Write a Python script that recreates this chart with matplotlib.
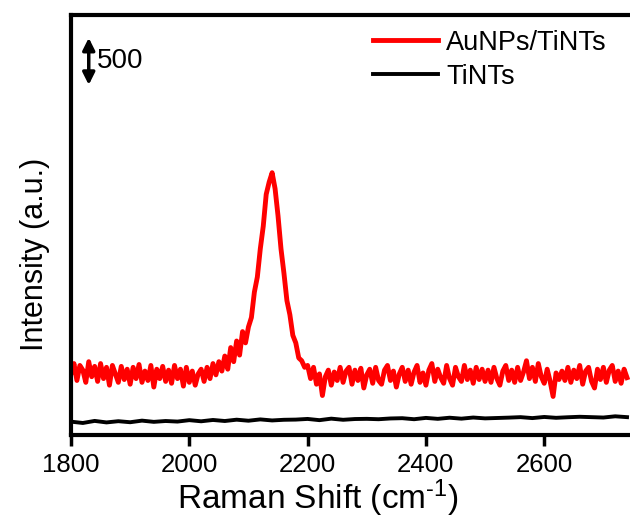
import matplotlib.pyplot as plt
import numpy as np

plt.rcParams['font.family'] = ['Liberation Sans', 'DejaVu Sans']
plt.rcParams['mathtext.default'] = 'regular'

# Raman shift axis (cm-1)
shift_red = np.arange(1800, 2745, 5)
shift_black = np.arange(1800, 2745, 20)

# AuNPs/TiNTs spectrum, counts
au_tints = [
    650, 760, 580, 740, 690, 560, 780, 620, 730, 570, 760, 600, 720, 530, 740, 650, 560, 730, 590, 700,
    540, 720, 600, 750, 560, 680, 580, 740, 510, 700, 600, 730, 570, 690, 550, 740, 600, 700, 520, 720,
    560, 680, 530, 650, 700, 570, 720, 600, 760, 640, 780, 680, 840, 700, 930, 780, 1000, 850, 1100, 980,
    1150, 1250, 1520, 1680, 1980, 2220, 2560, 2690, 2790, 2620, 2330, 1980, 1720, 1430, 1280, 1060, 980, 820, 790, 720,
    740, 600, 720, 540, 650, 420, 620, 690, 530, 670, 580, 720, 560, 680, 720, 540, 690, 580, 710, 500,
    640, 700, 550, 720, 580, 540, 690, 740, 580, 680, 510, 650, 720, 570, 690, 540, 670, 740, 560, 660,
    530, 690, 760, 570, 700, 610, 550, 740, 600, 530, 720, 620, 570, 740, 590, 690, 550, 720, 590, 700,
    570, 690, 560, 720, 600, 530, 680, 740, 580, 690, 560, 720, 580, 670, 790, 600, 720, 570, 760, 620,
    550, 700, 570, 410, 660, 590, 680, 580, 720, 560, 690, 600, 740, 540, 680, 720, 570, 500, 700, 590,
    720, 560, 690, 740, 570, 680, 550, 700, 610,
]

# bare TiNTs spectrum, counts
tints = [
    142, 128, 150, 134, 147, 136, 153, 140, 149, 143, 158, 146, 160, 149, 163, 152, 166, 155, 162, 164,
    171, 158, 174, 162, 170, 172, 168, 176, 179, 168, 182, 172, 184, 174, 186, 177, 181, 185, 190, 180,
    192, 183, 189, 194, 190, 186, 199, 190,
]

fig = plt.figure(figsize=(6.3, 5.18), dpi=100)
ax = fig.add_axes([0.1127, 0.1602, 0.8873, 0.811])

ax.plot(shift_red, au_tints, color='red', lw=3.5, label='AuNPs/TiNTs')
ax.plot(shift_black, tints, color='black', lw=2.8, label='TiNTs')

ax.set_xlim(1800, 2745)
ax.set_ylim(0, 4468)
ax.set_xticks([1800, 2000, 2200, 2400, 2600])
ax.set_yticks([])
ax.tick_params(axis='x', direction='out', length=8, width=2.5, labelsize=18.5, pad=5)
for side in ['left', 'top', 'bottom']:
    ax.spines[side].set_linewidth(3)
ax.spines['right'].set_visible(False)

ax.set_xlabel('Raman Shift (cm$^{\u20101}$)', fontsize=24, labelpad=0)
ax.xaxis.set_label_coords(0.442, -0.1)
ax.set_ylabel('Intensity (a.u.)', fontsize=22)
ax.yaxis.set_label_coords(-0.037, 0.43)

# 500-count scale bar
ax.annotate('', xy=(1830, 3724), xytext=(1830, 4224),
            arrowprops=dict(arrowstyle='<|-|>', color='black', lw=2.5,
                            mutation_scale=18, shrinkA=0, shrinkB=0))
ax.text(1843, 3974, '500', fontsize=20, va='center', ha='left')

ax.legend(loc='upper right', frameon=False, fontsize=19.5, handlelength=2.4,
          handletextpad=0.3, labelspacing=0.3, borderaxespad=0.15,
          bbox_to_anchor=(0.985, 1.0))

fig.savefig('out.png', dpi=100)
